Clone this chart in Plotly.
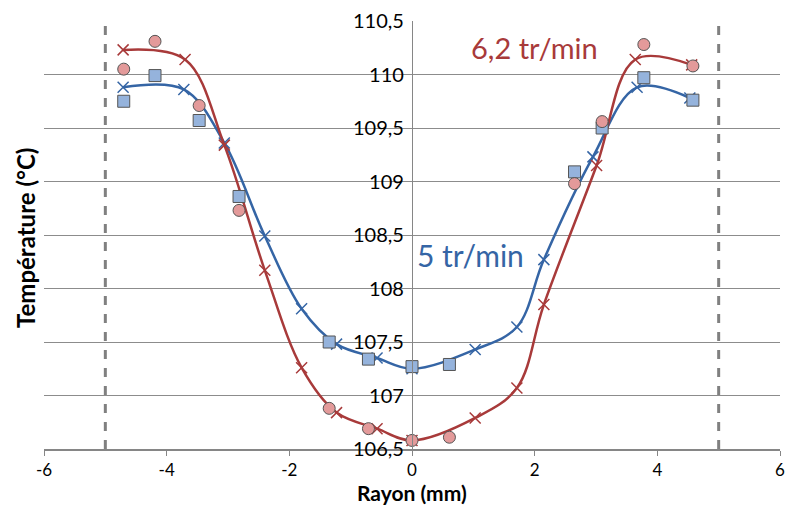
import plotly.graph_objects as go

# Smoothed series (crosses)
x_red_fit = [-4.71, -3.70, -3.06, -2.40, -1.80, -1.23, -0.57, 0.0, 1.03, 1.71, 2.15, 3.01, 3.64, 4.56]
y_red_fit = [110.23, 110.14, 109.34, 108.17, 107.26, 106.84, 106.69, 106.58, 106.79, 107.07, 107.85, 109.15, 110.14, 110.09]
x_blue_fit = [-4.71, -3.72, -3.06, -2.40, -1.80, -1.23, -0.57, 0.0, 1.03, 1.71, 2.15, 2.95, 3.67, 4.53]
y_blue_fit = [109.88, 109.86, 109.36, 108.49, 107.81, 107.48, 107.35, 107.25, 107.43, 107.64, 108.27, 109.23, 109.88, 109.78]

# Measured points
x_meas = [-4.70, -4.19, -3.47, -2.82, -1.35, -0.71, 0.0, 0.61, 2.65, 3.10, 3.78, 4.58]
y_red_meas = [110.05, 110.31, 109.71, 108.73, 106.88, 106.69, 106.58, 106.61, 108.98, 109.56, 110.28, 110.08]
y_blue_meas = [109.75, 109.99, 109.57, 108.86, 107.50, 107.34, 107.27, 107.29, 109.09, 109.50, 109.97, 109.76]

limits = [-5, 5]
x_ticks = [-6, -4, -2, 0, 2, 4, 6]
x_ticktext = ["-6", "-4", "-2", "0", "2", "4", "6"]
y_ticks = [106.5, 107, 107.5, 108, 108.5, 109, 109.5, 110, 110.5]
y_ticktext = ["106,5", "107", "107,5", "108", "108,5", "109", "109,5", "110", "110,5"]

RED = "#A83A3A"
BLUE = "#3565A5"
FONT = "Lato"

W, H = 788, 508
ML, MR, MT, MB = 44, 8, 21, 59
PW, PH = W - ML - MR, H - MT - MB

fig = go.Figure()

fig.add_trace(go.Scatter(x=x_blue_fit, y=y_blue_fit, mode="lines+markers",
                         line=dict(color=BLUE, width=2.5, shape="spline", smoothing=1),
                         marker=dict(symbol="x-thin", size=11, line=dict(color=BLUE, width=1.5)),
                         showlegend=False))
fig.add_trace(go.Scatter(x=x_red_fit, y=y_red_fit, mode="lines+markers",
                         line=dict(color=RED, width=2.5, shape="spline", smoothing=1),
                         marker=dict(symbol="x-thin", size=11, line=dict(color=RED, width=1.5)),
                         showlegend=False))
fig.add_trace(go.Scatter(x=x_meas, y=y_blue_meas, mode="markers",
                         marker=dict(symbol="square", size=12, color="#95B3DC",
                                     line=dict(color="#555555", width=1)),
                         showlegend=False))
fig.add_trace(go.Scatter(x=x_meas, y=y_red_meas, mode="markers",
                         marker=dict(symbol="circle", size=12, color="#E39A9A",
                                     line=dict(color="#555555", width=1)),
                         showlegend=False))

for xv in limits:
    fig.add_shape(type="line", x0=xv, x1=xv, y0=y_ticks[0], y1=y_ticks[-1],
                  xref="x", yref="y", line=dict(color="#808080", width=3, dash="dash"),
                  layer="above")

fig.add_annotation(x=1.99, y=110.25, text="6,2 tr/min", showarrow=False,
                   font=dict(family=FONT, size=29, color=RED), xanchor="center", yanchor="middle")
fig.add_annotation(x=0.96, y=108.31, text="5 tr/min", showarrow=False,
                   font=dict(family=FONT, size=30, color=BLUE), xanchor="center", yanchor="middle")
fig.add_annotation(x=(25 - ML) / PW, y=(H - MB - 238) / PH, xref="paper", yref="paper",
                   text="<b>Température (°C)</b>", textangle=-90, showarrow=False,
                   xanchor="center", yanchor="middle",
                   font=dict(family=FONT, size=24, color="#000000"))
fig.add_annotation(x=0.5, y=(H - MB - 493) / PH, xref="paper", yref="paper",
                   text="<b>Rayon (mm)</b>", showarrow=False,
                   xanchor="center", yanchor="middle", borderpad=0,
                   font=dict(family=FONT, size=21, color="#000000"))

fig.update_layout(
    width=W, height=H,
    margin=dict(l=ML, r=MR, t=MT, b=MB),
    plot_bgcolor="white", paper_bgcolor="white",
    font=dict(family=FONT, size=20, color="#000000"),
    xaxis=dict(range=[-6, 6], tickvals=x_ticks, ticktext=x_ticktext, showgrid=False, zeroline=False,
               showline=True, linecolor="#868686", linewidth=1.5, automargin=False,
               ticks="outside", ticklen=5, tickcolor="#868686", tickfont=dict(size=17)),
    yaxis=dict(range=[106.5, 110.5], tickvals=y_ticks, ticktext=y_ticktext,
               showgrid=True, gridcolor="#8C8C8C", gridwidth=1.2, automargin=False,
               zeroline=False, showline=True, linecolor="#868686", linewidth=1.2,
               anchor="free", position=0.5, ticks="", ticklabelstandoff=4),
)

fig.write_html("out.html", config={"displayModeBar": False},
               post_script="document.body.style.margin='0';document.body.style.overflow='hidden';")
